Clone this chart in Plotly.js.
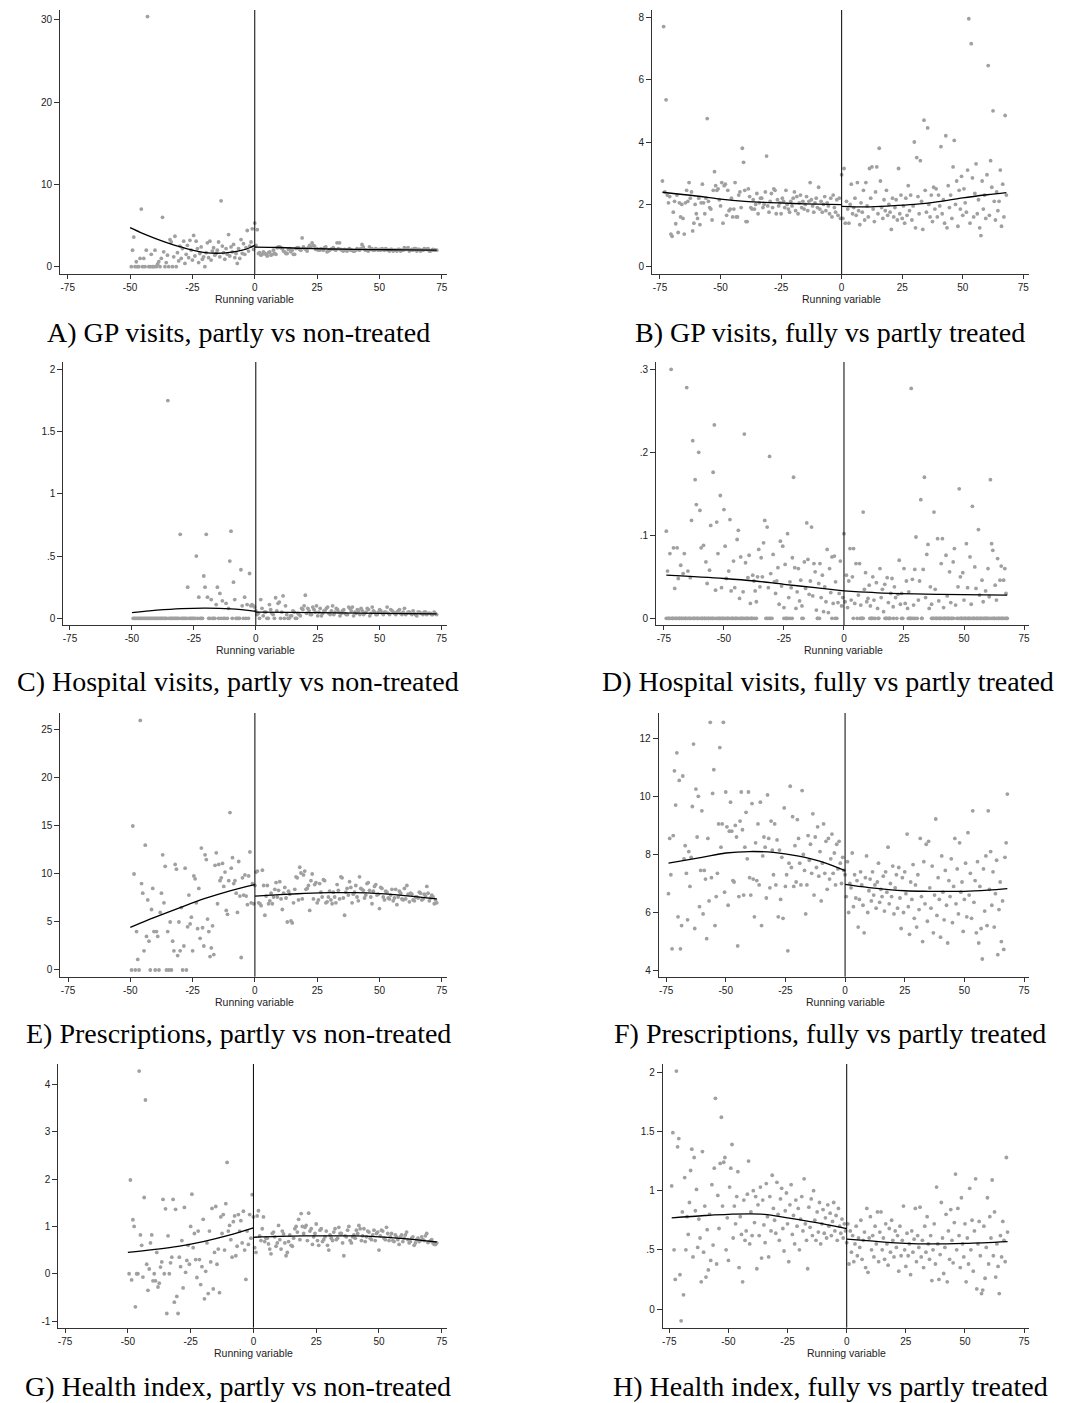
<!DOCTYPE html>
<html><head><meta charset="utf-8">
<script src="https://cdn.plot.ly/plotly-3.0.1.min.js"></script>
<style>html,body{margin:0;padding:0;background:#fff;} #chart{width:1086px;height:1403px;}</style>
</head><body><div id="chart"></div>
<script>
// ---------- DATA ----------
// Left-column panels: negative side x = -49.5..-0.5 step 0.5; positive side x = 0..73 step 1, plus x = 0.5..72.5 step 1
// Right-column panels: negative side x = -74..-0.5 step 0.5; positive side x = 0..68 step 0.5
const xTicks = [-75,-50,-25,0,25,50,75];

// A) GP visits, partly vs non-treated
const aLeftY = [0,2.0,3.6,0,0.6,0,0,1.0,7.0,0, 1.0,0,2.0,30.4,0,0,1.5,0,0,2.0, 0,0.3,0.6,0,1.0,6.0,1.8,0,0.5,1.4,
 0,3.3,3.0,0,1.2,3.7,0,1.7,0.7,2.5, 1.0,2.2,3.1,0.4,1.5,2.6,1.1,3.2,2.0,0.8, 3.8,1.3,3.1,2.2,0.5,1.6,2.4,0.9,1.2,0,
 1.7,2.9,1.1,3.1,0.8,1.9,2.3,1.4,1.6,2.0, 3.0,1.2,8.0,2.5,1.7,0.9,2.2,1.5,3.9,1.3, 2.4,1.8,2.7,1.1,1.6,0.4,2.2,1.0,3.3,1.6,
 2.8,1.5,2.3,4.4,1.9,2.5,3.0,4.6,2.1];
const aRightY = [5.3,4.5,1.7,1.5,1.6,1.3,1.8,1.5,1.6,2.3, 2.4,2.2,1.8,1.6,2.2,2.0,1.5,2.3,2.1,3.5, 2.2,1.9,2.6,2.9,2.5,2.2,2.0,2.1,2.3,1.8,
 2.0,2.2,2.1,2.9,2.9,2.0,2.1,1.9,2.2,2.0, 1.9,2.2,2.0,2.7,2.1,2.0,2.4,2.2,2.0,2.1, 2.1,2.2,2.0,2.1,1.9,2.1,2.0,1.9,2.1,2.0,
 2.3,2.2,1.9,2.1,2.2,1.9,2.1,2.0,2.2,2.1, 1.9,2.0,2.0,2.0];
const aRight2Y = [2.6,1.6,1.4,1.8,1.5,1.7,1.4,2.0,1.5,2.4, 2.3,1.9,1.6,2.1,1.8,1.5,2.2,2.3,2.0,2.4, 2.1,2.3,2.4,2.6,2.1,2.0,2.2,2.0,2.4,1.9,
 2.1,2.3,2.0,2.2,2.1,1.9,2.0,2.1,2.0,1.9, 2.0,2.1,2.2,2.4,2.0,1.9,2.1,2.0,2.2,2.0, 2.0,2.1,2.2,2.0,2.1,1.9,2.0,2.1,1.9,2.0,
 2.1,2.3,2.0,2.0,2.2,2.1,1.9,2.0,2.1,2.2, 1.9,2.1,2.0];
const aFitLX = [-50,-45,-40,-35,-30,-25,-20,-15,-10,-5,-2,0];
const aFitLY = [4.74,4.05,3.45,2.9,2.43,2.0,1.72,1.63,1.74,2.0,2.3,2.58];
const aFitRX = [0,10,20,30,40,50,60,73];
const aFitRY = [2.38,2.33,2.22,2.15,2.1,2.07,2.04,2.0];

// B) GP visits, fully vs partly treated
const bLeftY = [2.75,7.7,2.4,5.35,2.3,2.05,2.25,1.05,0.98,1.75, 2.1,1.38,2.3,1.1,2.05,1.6,2.0,1.55,1.05,2.05,
 2.45,2.1,2.7,2.2,2.4,1.15,1.4,2.0,1.7,1.55, 2.2,1.35,2.05,2.65,2.05,1.7,2.2,4.75,2.1,1.9,
 1.85,1.5,2.45,3.05,2.6,2.45,2.5,2.15,1.95,2.7, 1.4,2.6,2.65,1.65,2.45,1.8,1.85,2.2,1.6,1.85,
 2.7,1.6,1.6,2.3,2.4,1.9,3.8,3.35,2.45,1.45, 1.45,2.5,2.25,1.9,1.85,2.15,1.85,2.0,2.35,1.7,
 2.05,2.2,2.2,1.9,2.0,2.4,3.55,1.95,1.75,2.1, 2.35,1.9,2.5,2.45,1.7,2.15,1.95,2.05,1.7,2.2,
 2.1,1.9,2.45,2.0,1.85,1.75,2.1,1.95,2.2,2.4, 1.8,2.25,1.7,2.05,2.3,1.9,2.1,1.85,2.0,2.25,
 1.8,2.1,2.7,2.15,1.95,1.75,2.05,2.2,1.9,2.55, 1.85,2.1,1.75,2.0,2.25,1.8,2.05,1.95,1.7,2.2,
 1.6,2.3,1.9,1.75,2.15,1.65,2.2,1.55];
const bRightY = [2.95,1.55,3.15,1.4,2.1,1.85,1.4,2.0,2.65,1.7, 1.9,2.2,1.65,2.7,1.8,1.35,2.05,1.75,2.45,1.5,
 2.7,1.95,1.6,3.15,2.2,3.2,1.85,1.45,2.4,3.2, 1.7,3.8,2.75,1.9,1.55,2.15,1.8,2.45,1.65,2.0,
 1.75,1.2,2.2,1.6,1.9,2.15,1.5,3.15,1.7,2.3, 1.55,1.95,1.4,2.2,1.65,2.6,1.8,2.3,1.5,1.95,
 4.0,1.25,3.5,2.25,1.7,3.4,2.1,1.2,4.7,2.45, 1.75,4.45,2.0,1.6,2.3,1.45,2.55,1.85,2.5,1.6,
 2.3,1.95,3.85,1.7,2.15,1.4,4.2,1.25,2.6,1.9, 2.3,1.55,3.2,4.05,2.0,2.75,1.3,2.45,1.85,2.9,
 1.65,2.5,2.05,1.75,3.1,7.95,1.4,7.15,2.85,1.6, 2.35,3.3,1.7,2.15,1.25,1.0,2.75,1.85,2.3,1.55,
 2.95,6.45,1.65,3.4,2.55,5.0,2.1,1.5,2.4,1.8, 2.1,3.1,1.3,2.65,1.6,4.85,2.3];
const bFitLX = [-74,-60,-50,-40,-30,-20,-10,0];
const bFitLY = [2.39,2.27,2.17,2.1,2.06,2.03,2.01,1.99];
const bFitRX = [0,10,20,30,40,50,60,68];
const bFitRY = [1.94,1.92,1.95,2.0,2.09,2.21,2.31,2.38];

// C) Hospital visits, partly vs non-treated
const cLeftY = [0,0,0,0,0,0,0,0,0,0, 0,0,0,0,0,0,0,0,0,0, 0,0,0,0,0,0,0,0,
 1.75,0,0,0,0,0,0,0,0,0, 0.675,0,0,0,0,0,0.25,0,0,0, 0,0,0,0.5,0,0.17,0,0,0,0.34,
 0.25,0.675,0.17,0,0,0.15,0,0,0,0.11, 0.25,0,0.2,0,0.14,0,0,0.12,0,0.08,
 0.46,0.70,0,0.29,0.15,0,0,0,0,0.39, 0.1,0,0.17,0,0.11,0,0.36,0.1,0.11,0.1, 0.09];
const cRightY = [0.06,0.04,0.15,0.02,0.05,0,0.07,0.03,0.165,0.12, 0,0.18,0.1,0,0.02,0.06,0,0.04,0.02,0.07,
 0.185,0.08,0.03,0.09,0.05,0.02,0.08,0.04,0.06,0.09, 0.03,0.1,0.05,0.07,0.02,0.06,0.04,0.03,0.08,0.09,
 0.05,0.07,0.03,0.06,0.04,0.08,0.02,0.09,0.05,0.03, 0.07,0.04,0.05,0.09,0.03,0.06,0.04,0.05,0.07,0.03,
 0.08,0.04,0.05,0.03,0.04,0.02,0.05,0.04,0.05,0.03, 0.04,0.03,0.05,0.03];
const cRight2Y = [0.03,0,0.08,0.05,0,0.11,0.04,0,0.06,0.13, 0.05,0,0.03,0,0.02,0.05,0,0.03,0.08,0.1,
 0.04,0.06,0.03,0.07,0.1,0.05,0.02,0.06,0.08,0.04, 0.06,0.03,0.08,0.05,0.04,0.07,0.03,0.09,0.06,0.02,
 0.04,0.06,0.08,0.03,0.05,0.07,0.04,0.06,0.03,0.05, 0.06,0.03,0.05,0.04,0.07,0.05,0.03,0.06,0.04,0.05,
 0.03,0.05,0.04,0.06,0.03,0.05,0.04,0.03,0.05,0.04, 0.04,0.03,0.04];
const cFitLX = [-50,-40,-30,-20,-10,0];
const cFitLY = [0.045,0.065,0.078,0.082,0.075,0.056];
const cFitRX = [0,25,50,73];
const cFitRY = [0.05,0.045,0.04,0.035];

// D) Hospital visits, fully vs partly treated
const dLeftY = [0.105,0.057,0,0.078,0.30,0,0.085,0.036,0,0.085, 0.048,0,0.064,0,0.054,0.078,0,0.278,0.057,0,
 0.049,0.118,0.214,0,0.167,0.137,0,0.2,0.13,0.085, 0,0.088,0,0.068,0.042,0,0.058,0.112,0,0.176,
 0.233,0.034,0.116,0.078,0,0.148,0.037,0,0.131,0.087, 0.048,0,0.057,0.119,0.033,0,0.069,0.037,0,0.095,
 0.106,0.024,0.074,0,0.032,0.222,0.067,0,0.049,0.076, 0.018,0,0.052,0.045,0.033,0.02,0.05,0.083,0.038,0.073,
 0.05,0.091,0.118,0,0.11,0.037,0.195,0.054,0,0.077, 0.044,0.03,0.045,0.061,0.017,0.093,0.039,0.087,0.013,0.065,
 0,0.102,0.025,0.044,0.037,0.073,0.17,0.061,0.012,0.032, 0.06,0.021,0.046,0.015,0,0.068,0.036,0.115,0.071,0.029,
 0.045,0.11,0.027,0.066,0.056,0.01,0,0.042,0.066,0.025, 0.052,0.008,0.038,0.02,0.083,0.007,0.06,0.031,0.074,0.018,
 0.075,0.044,0,0.019,0.03,0.069,0.015,0.025];
const dRightY = [0.102,0.02,0.052,0.013,0.045,0.084,0.022,0.05,0.084,0.018, 0.066,0,0.028,0.066,0.016,0,0.128,0.035,0.055,0.02,
 0.024,0.04,0.015,0,0.05,0.022,0,0.043,0.012,0, 0.06,0.025,0.035,0.008,0.041,0,0.049,0.019,0,0.03,
 0.048,0.014,0.038,0.025,0,0.029,0.07,0.017,0.03,0, 0.06,0.018,0.045,0.012,0.032,0,0.277,0.047,0.016,0.059,
 0.098,0,0.022,0.045,0.143,0,0.059,0.17,0.025,0.077, 0.089,0.012,0.038,0.017,0,0.128,0.035,0,0.096,0.021,
 0,0.066,0.096,0.013,0,0.076,0.027,0,0.056,0.019, 0,0.068,0.084,0.016,0,0.038,0.156,0.05,0,0.055,
 0.022,0,0.09,0.037,0,0.074,0.017,0.135,0,0.062, 0.036,0,0.107,0.028,0,0.046,0.02,0,0.033,0,
 0.06,0.026,0.167,0.09,0.082,0,0.04,0.022,0.072,0, 0.046,0.063,0,0.046,0.06,0.03,0];
// extra zero-valued observations (x positions read along the zero row)
const dZeroX = [-74,-73.3,-72.5,-71.6,-70.9,-70.1,-69.2,-68.5,-67.7,-66.8,-66.1,-65.3,-64.4,-63.7,-62.8,-62.1,-61.3,-60.4,-59.6,-58.9,
 -58,-57.3,-56.4,-55.7,-54.8,-54.1,-53.2,-52.5,-51.6,-50.9,-50,-49.3,-48.4,-47.7,-46.8,-46.1,-45.2,-44.5,-43.6,-42.9,-42,-41.3,-40.4,
 -39.7,-38.8,-38.1,-37.2,-36.5,-32,-31.2,-30.6,-25,-24.2,-23.4,-22.5,-21.6,-17.5,-11,-10.2,-5,-3.7,
 3.9,6.7,7.4,8.0,10.8,11.5,12.2,14.3,17.1,17.8,18.5,19.2,20.6,24,26.8,27.5,28.2,28.9,29.6,32.4,36.5,37.2,38,38.7,39.5,40.2,41,
 41.7,42.5,43.2,44,44.8,45.6,47.6,48.4,49.1,49.9,50.6,51.4,52.2,52.9,53.7,54.4,55.2,56,56.7,57.5,58.2,59,59.8,60.5,61.3,62,62.8,
 63.6,64.3,65.1,65.8,66.6,67.3,67.8];
const dFitLX = [-74,-50,-37,-25,-12,0];
const dFitLY = [0.052,0.048,0.045,0.041,0.037,0.033];
const dFitRX = [0,20,40,68];
const dFitRY = [0.033,0.030,0.029,0.028];

// E) Prescriptions, partly vs non-treated
const eLeftY = [0,15,10,0,4,1.1,0,26,9,8, 2,13,3.5,7.3,3,0,6.3,8.5,4,0, 4,3.5,0,6,8,12,7,10.8,0,4,
 0,5,0,3,2,11,10.5,1.5,5,2, 6.5,0,2.5,10.6,0,4.5,7.8,4.8,5.5,2, 9.8,9.5,7,4.3,8.5,3.3,12.7,4.4,2.5,12,
 11.5,5.3,4,1.4,2.3,4.6,1.6,10.9,12.2,6.9, 11,9.3,9.6,11.1,8.7,10.2,6.2,5.8,9.3,16.4, 10.6,11.7,9,9.3,8,6,11.3,7.7,1.3,9.6,
 7.8,9.9,7.7,6.8,9.8,12.3,7,9,6.9];
const eRightY = [8.8,10.3,6.9,10.4,5.7,8.8,7.2,6.9,8.4,7.6, 9.2,6.3,8.6,5.0,7.9,4.9,8.4,9.6,10.7,7.4,
 10.3,8.5,6.2,10.0,8.9,7.0,9.0,7.6,9.3,7.1, 8.2,6.9,7.6,8.9,7.4,9.6,5.7,8.5,9.2,7.0,
 8.1,7.6,9.7,8.4,7.5,9.0,8.3,6.9,8.7,7.8, 6.4,8.5,7.3,8.1,7.4,8.4,7.5,6.8,8.2,7.4,
 8.5,8.8,7.1,7.9,7.2,7.6,8.1,7.3,7.9,8.7, 7.2,7.8,6.9,7.0];
const eRight2Y = [10.2,7.0,6.7,8.8,7.7,6.9,8.0,7.6,9.1,8.3, 7.4,8.0,7.5,8.2,5.1,7.0,9.7,7.3,10.1,9.9,
 8.4,8.8,9.3,7.4,9.1,7.3,8.1,9.4,7.0,7.6, 7.3,8.1,7.0,8.3,9.7,7.5,8.1,7.8,8.6,7.9,
 8.8,7.2,8.5,8.3,7.8,9.1,7.6,8.2,8.9,7.9, 8.6,7.6,8.2,7.5,7.8,7.2,8.4,7.6,8.0,7.3,
 7.4,7.9,8.0,7.3,7.6,7.5,8.0,7.4,7.7,8.0, 7.5,7.6,7.3];
const eFitLX = [-50,-40,-30,-20,-10,0];
const eFitLY = [4.44,5.5,6.5,7.45,8.25,8.9];
const eFitRX = [0,10,20,30,40,50,60,73];
const eFitRY = [7.7,7.85,7.97,8.05,8.05,7.95,7.75,7.4];

// F) Prescriptions, fully vs partly treated
const fLeftY = [6.65,8.55,7.3,4.75,8.65,10.88,9.7,11.5,5.85,10.55, 4.75,5.55,10.7,7.85,8.3,7.35,5.75,8.1,6.9,7.9,
 9.65,11.8,5.45,10.25,8.6,10.0,6.2,7.45,9.5,5.95, 7.45,7.15,5.1,8.55,6.4,12.55,7.2,10.1,10.92,5.55,
 6.55,7.35,9.05,11.68,8.25,9.05,12.55,6.7,10.15,8.95, 6.25,8.8,9.8,8.8,7.1,7.05,9.0,8.6,4.85,6.55,
 9.15,10.15,8.85,6.6,8.25,9.45,7.85,10.15,7.2,6.6, 9.75,7.15,5.85,8.4,7.1,9.05,6.95,9.8,5.55,7.95,
 8.6,8.25,6.5,10.05,8.55,6.85,9.15,8.15,7.3,9.05, 6.95,8.5,5.85,8.15,6.45,7.9,5.8,9.6,6.9,7.3,
 4.68,7.7,10.35,7.55,9.3,6.9,8.3,7.05,9.2,8.55, 7.7,6.95,10.2,8.0,7.45,5.95,6.95,8.65,7.8,8.35,
 7.35,9.4,6.6,8.6,7.55,8.95,7.25,8.1,6.4,7.7, 9.05,7.35,8.45,6.8,8.55,7.15,7.85,8.7,7.35,8.05,
 6.95,8.35,7.5,8.45,7.7,7.0,7.9,7.45];
const fRightY = [7.3,6.55,7.75,6.0,7.0,6.85,8.05,6.2,7.3,6.5, 7.1,5.5,6.45,7.4,6.95,6.25,5.3,7.2,7.95,6.0,
 6.75,7.15,6.4,7.4,6.6,6.95,6.15,7.05,7.7,6.35, 6.8,6.55,7.25,6.05,7.4,6.7,8.25,6.3,7.0,6.55,
 7.6,5.95,6.85,7.3,6.15,7.55,6.5,5.45,7.2,6.0, 7.4,6.65,8.7,6.2,5.25,7.05,6.45,7.65,5.8,6.95,
 5.5,7.3,6.1,8.55,6.55,5.0,7.75,6.3,8.35,5.7, 8.45,6.85,6.15,7.6,5.3,6.6,9.22,5.9,7.2,6.45,
 5.15,7.95,6.7,5.75,7.45,6.25,4.95,7.1,6.55,7.85, 5.65,6.9,8.55,6.3,7.5,5.95,8.4,6.7,7.05,5.35,
 6.45,7.7,5.85,8.75,6.6,7.35,5.8,9.5,6.35,7.1, 5.3,7.75,4.95,6.9,5.45,4.4,7.5,6.05,7.95,5.55,
 9.5,6.8,8.1,6.25,7.4,5.5,6.65,7.8,4.55,6.1, 7.05,5.0,6.4,4.73,7.9,8.4,10.08];
const fFitLX = [-74,-60,-50,-40,-30,-20,-10,0];
const fFitLY = [7.7,7.9,8.05,8.1,8.07,7.95,7.75,7.44];
const fFitRX = [0,10,25,35,50,60,68];
const fFitRY = [6.97,6.86,6.75,6.73,6.73,6.77,6.82];

// G) Health index, partly vs non-treated
const gLeftY = [0,1.98,-0.13,1.14,1.0,-0.7,0,0,4.28,0.82, 0.6,-0.07,1.61,3.67,0.2,-0.35,0.1,0.65,0.82,-0.15,
 0,-0.15,0.45,-0.28,-0.2,0.14,0.25,1.57,0,1.37, -0.84,0.8,0,0.23,0.35,1.57,-0.6,1.36,-0.48,-0.84,
 0.35,0.15,0.7,-0.3,1.4,0.03,0.28,0.6,0.2,1.0, 1.68,0.55,0.85,0.3,-0.08,0.9,0.3,-0.23,0.15,1.15,
 -0.53,0.05,0.65,-0.42,0.9,0.25,1.38,-0.32,0.45,1.42, 0.2,0.52,-0.4,1.2,0.85,1.25,0.5,1.48,2.35,0.9,
 1.02,0.72,0.35,1.1,1.22,0.38,0.58,1.25,0.9,1.12, 0.65,1.32,0.5,-0.12,0.9,0.62,1.25,0.75,1.67];
const gRightY = [1.2,0.45,1.33,0.7,1.2,0.75,0.63,0.42,0.88,0.58, 1.02,0.52,0.84,0.38,0.68,0.6,0.75,1.0,1.15,1.27,
 0.85,1.02,1.28,0.95,0.78,1.05,0.6,0.95,0.72,0.9, 0.5,0.75,0.88,0.72,0.98,0.85,0.38,0.78,1.0,0.65,
 0.82,0.92,1.02,0.7,0.95,0.78,0.88,0.72,0.92,0.85, 0.5,0.92,0.75,0.98,0.7,0.85,0.68,0.78,0.62,0.82,
 0.75,0.88,0.65,0.75,0.6,0.72,0.68,0.78,0.7,0.85, 0.68,0.72,0.62,0.65];
const gRight2Y = [0.55,1.22,0.8,0.95,0.68,0.75,0.52,0.85,0.78,0.65, 0.72,0.9,0.65,0.45,0.82,0.58,0.95,0.88,0.72,1.0,
 0.98,0.7,0.9,0.62,0.85,0.7,0.92,0.68,0.78,0.6, 0.82,0.7,0.95,0.75,0.85,0.65,0.8,0.92,0.7,0.78,
 0.75,0.85,0.95,0.8,0.68,0.9,0.75,0.82,0.7,0.88, 0.8,0.9,0.72,0.85,0.78,0.7,0.82,0.72,0.78,0.68,
 0.82,0.72,0.68,0.78,0.65,0.75,0.7,0.72,0.8,0.66, 0.7,0.65,0.62];
const gFitLX = [-50,-40,-30,-20,-10,0];
const gFitLY = [0.45,0.51,0.58,0.68,0.81,0.97];
const gFitRX = [0,10,20,30,40,50,60,73];
const gFitRY = [0.77,0.79,0.8,0.8,0.8,0.78,0.74,0.67];

// H) Health index, fully vs partly treated
const hLeftY = [1.04,1.49,0.5,0.25,2.01,1.37,1.44,0.29,-0.1,0.82, 0.12,1.11,0.5,0.78,0.63,0.9,1.17,1.35,0.44,1.28,
 0.83,1.01,0.52,0.76,0.6,0.23,1.33,0.48,0.87,0.27, 0.67,0.33,0.8,0.41,1.05,0.54,1.19,1.78,0.38,0.96,
 0.68,1.23,1.62,0.87,1.24,1.28,0.5,0.77,0.41,1.03, 1.19,1.39,0.6,0.87,0.72,0.95,1.16,0.35,0.78,0.63,
 0.23,0.92,0.58,0.66,0.97,1.25,0.55,0.82,0.62,1.0, 0.73,0.95,0.34,0.88,0.62,1.03,0.43,0.92,0.71,0.56,
 1.06,0.78,0.44,0.95,0.66,1.13,0.85,0.75,0.64,1.07, 0.8,0.58,0.93,1.02,0.68,0.49,0.83,0.98,0.72,0.4,
 0.88,1.05,0.63,0.79,0.55,0.92,0.7,0.85,0.5,0.76, 0.95,0.66,1.1,0.72,0.58,0.34,0.86,0.69,0.93,0.62,
 1.0,0.75,0.58,0.82,0.65,0.9,0.55,0.72,0.84,0.64, 0.77,0.6,0.88,0.7,0.81,0.62,0.74,0.9,0.66,0.79,
 0.58,0.85,0.7,0.64,0.76,0.6,0.72,0.66];
const hRightY = [0.56,0.72,0.38,0.66,0.48,0.62,0.4,0.55,0.7,0.45, 0.6,0.52,0.75,0.42,0.58,0.65,0.35,0.85,0.31,0.6,
 0.78,0.5,0.62,0.44,0.7,0.55,0.82,0.4,0.65,0.82, 0.5,0.6,0.42,0.72,0.55,0.37,0.68,0.48,0.75,0.58,
 0.44,0.66,0.52,0.62,0.32,0.7,0.45,0.58,0.87,0.5, 0.36,0.64,0.45,0.55,0.29,0.66,0.48,0.59,0.85,0.4,
 0.62,0.52,0.86,0.44,0.58,0.35,0.7,0.48,0.78,0.55, 0.42,0.62,0.24,0.5,0.72,0.38,1.03,0.55,0.25,0.46,
 0.9,0.6,0.3,0.52,0.8,0.23,0.66,0.42,0.84,0.58, 0.39,0.73,1.14,0.5,0.85,0.62,0.35,0.94,0.55,0.44,
 0.72,0.23,0.6,0.38,1.02,0.5,0.75,0.32,0.66,1.1, 0.17,0.55,0.74,0.45,0.13,0.16,0.7,0.26,0.52,0.94,
 0.38,0.78,0.6,1.09,0.45,0.82,0.27,0.55,0.36,0.13, 0.62,0.44,0.74,0.58,0.4,1.28,0.65];
const hFitLX = [-74,-60,-50,-35,-25,-10,0];
const hFitLY = [0.77,0.79,0.80,0.80,0.77,0.72,0.68];
const hFitRX = [0,10,25,35,50,68];
const hFitRY = [0.59,0.575,0.555,0.55,0.555,0.57];

const captions = ["A) GP visits, partly vs non-treated","B) GP visits, fully vs partly treated",
 "C) Hospital visits, partly vs non-treated","D) Hospital visits, fully vs partly treated",
 "E) Prescriptions, partly vs non-treated","F) Prescriptions, fully vs partly treated",
 "G) Health index, partly vs non-treated","H) Health index, fully vs partly treated"];
const yTickVals = [[0,10,20,30],[0,2,4,6,8],[0,0.5,1,1.5,2],[0,0.1,0.2,0.3],[0,5,10,15,20,25],[4,6,8,10,12],[-1,0,1,2,3,4],[0,0.5,1,1.5,2]];
const yTickText = [["0","10","20","30"],["0","2","4","6","8"],["0",".5","1","1.5","2"],["0",".1",".2",".3"],["0","5","10","15","20","25"],["4","6","8","10","12"],["-1","0","1","2","3","4"],["0",".5","1","1.5","2"]];

// ---------- BUILD ----------
function grid(start, step, n){const a=[];for(let i=0;i<n;i++)a.push(+(start+i*step).toFixed(3));return a;}
const W=1086, H=1403;

const series = [
 {x:[].concat(grid(-49.5,0.5,aLeftY.length),grid(0,1,aRightY.length),grid(0.5,1,aRight2Y.length)), y:[].concat(aLeftY,aRightY,aRight2Y), fl:[aFitLX,aFitLY], fr:[aFitRX,aFitRY]},
 {x:[].concat(grid(-74,0.5,bLeftY.length),grid(0,0.5,bRightY.length)), y:[].concat(bLeftY,bRightY), fl:[bFitLX,bFitLY], fr:[bFitRX,bFitRY]},
 {x:[].concat(grid(-49.5,0.5,cLeftY.length),grid(0,1,cRightY.length),grid(0.5,1,cRight2Y.length)), y:[].concat(cLeftY,cRightY,cRight2Y), fl:[cFitLX,cFitLY], fr:[cFitRX,cFitRY]},
 {x:[].concat(grid(-74,0.5,dLeftY.length),grid(0,0.5,dRightY.length),dZeroX), y:[].concat(dLeftY,dRightY,dZeroX.map(()=>0)), fl:[dFitLX,dFitLY], fr:[dFitRX,dFitRY]},
 {x:[].concat(grid(-49.5,0.5,eLeftY.length),grid(0,1,eRightY.length),grid(0.5,1,eRight2Y.length)), y:[].concat(eLeftY,eRightY,eRight2Y), fl:[eFitLX,eFitLY], fr:[eFitRX,eFitRY]},
 {x:[].concat(grid(-74,0.5,fLeftY.length),grid(0,0.5,fRightY.length)), y:[].concat(fLeftY,fRightY), fl:[fFitLX,fFitLY], fr:[fFitRX,fFitRY]},
 {x:[].concat(grid(-49.5,0.5,gLeftY.length),grid(0,1,gRightY.length),grid(0.5,1,gRight2Y.length)), y:[].concat(gLeftY,gRightY,gRight2Y), fl:[gFitLX,gFitLY], fr:[gFitRX,gFitRY]},
 {x:[].concat(grid(-74,0.5,hLeftY.length),grid(0,0.5,hRightY.length)), y:[].concat(hLeftY,hRightY), fl:[hFitLX,hFitLY], fr:[hFitRX,hFitRY]}
];

// pixel boxes of each plot area [left, right, top, bottom], axis ranges, caption centre, axis-title y
const boxes = [
 {b:[60,447,10,274],   xr:[-78.1,77.1], yr:[-0.89,31.2],  cx:238, cy:332,  ty:299},
 {b:[652,1029,10,274], xr:[-78.3,77.35],yr:[-0.23,8.23],  cx:830, cy:332,  ty:299},
 {b:[63.3,447.3,362,625], xr:[-77.7,77.3], yr:[-0.054,2.06], cx:238, cy:681, ty:650},
 {b:[656,1029.3,362,625], xr:[-78.3,77.2], yr:[-0.008,0.3088], cx:828, cy:681, ty:650},
 {b:[60.3,447,713,976.7], xr:[-78.1,77.1], yr:[-0.7,26.77], cx:238, cy:1033, ty:1002},
 {b:[658.7,1029.3,713,976.7], xr:[-78.1,77.2], yr:[3.79,12.87], cx:830, cy:1033, ty:1002},
 {b:[58.3,447.3,1064,1327.7], xr:[-77.7,77.2], yr:[-1.14,4.43], cx:238, cy:1386, ty:1353},
 {b:[662.7,1029.3,1064,1327.7], xr:[-77.8,77.2], yr:[-0.158,2.07], cx:830, cy:1386, ty:1353}
];

const tickFont = {family:'"Liberation Sans", Arial, sans-serif', size:10, color:'#222'};
const data = [], shapes = [], annotations = [];
const layout = {width:W, height:H, margin:{l:0,r:0,t:0,b:0}, paper_bgcolor:'#fff', plot_bgcolor:'#fff', showlegend:false};

series.forEach((s,i)=>{
  const n = i===0 ? '' : String(i+1);
  const xa = 'x'+n, ya = 'y'+n;
  const bx = boxes[i];
  data.push({type:'scatter', mode:'markers', x:s.x, y:s.y, xaxis:xa, yaxis:ya,
    marker:{color:'#a0a0a0', size:3.8, symbol:'circle', line:{width:0}}, hoverinfo:'skip', cliponaxis:true});
  data.push({type:'scatter', mode:'lines', x:s.fl[0], y:s.fl[1], xaxis:xa, yaxis:ya, line:{color:'#000', width:1.3, shape:'spline'}, hoverinfo:'skip'});
  data.push({type:'scatter', mode:'lines', x:s.fr[0], y:s.fr[1], xaxis:xa, yaxis:ya, line:{color:'#000', width:1.3, shape:'spline'}, hoverinfo:'skip'});
  layout['xaxis'+n] = {domain:[bx.b[0]/W, bx.b[1]/W], anchor:ya, range:bx.xr, showgrid:false, zeroline:false,
    showline:true, linecolor:'#333', linewidth:1, ticks:'outside', ticklen:4, tickcolor:'#333', tickwidth:1,
    tickvals:xTicks, ticktext:xTicks.map(String), tickfont:tickFont, fixedrange:true};
  layout['yaxis'+n] = {domain:[1-bx.b[3]/H, 1-bx.b[2]/H], anchor:xa, range:bx.yr, showgrid:false, zeroline:false,
    showline:true, linecolor:'#333', linewidth:1, ticks:'outside', ticklen:5, tickcolor:'#333', tickwidth:1,
    tickvals:yTickVals[i], ticktext:yTickText[i], tickfont:tickFont, fixedrange:true};
  shapes.push({type:'line', xref:xa, yref:ya+' domain', x0:0, x1:0, y0:0, y1:1, line:{color:'#000', width:1}});
  annotations.push({xref:xa, yref:'paper', x:0, y:1-bx.ty/H, xanchor:'center', yanchor:'middle', showarrow:false,
    text:'Running variable', font:{family:'"Liberation Sans", Arial, sans-serif', size:10.5, color:'#222'}});
  annotations.push({xref:'paper', yref:'paper', x:bx.cx/W, y:1-bx.cy/H, xanchor:'center', yanchor:'middle', showarrow:false,
    text:captions[i], font:{family:'"Liberation Serif", "Times New Roman", serif', size:28, color:'#000'}});
});
layout.shapes = shapes;
layout.annotations = annotations;

Plotly.newPlot('chart', data, layout, {staticPlot:true, displayModeBar:false});
</script></body></html>
